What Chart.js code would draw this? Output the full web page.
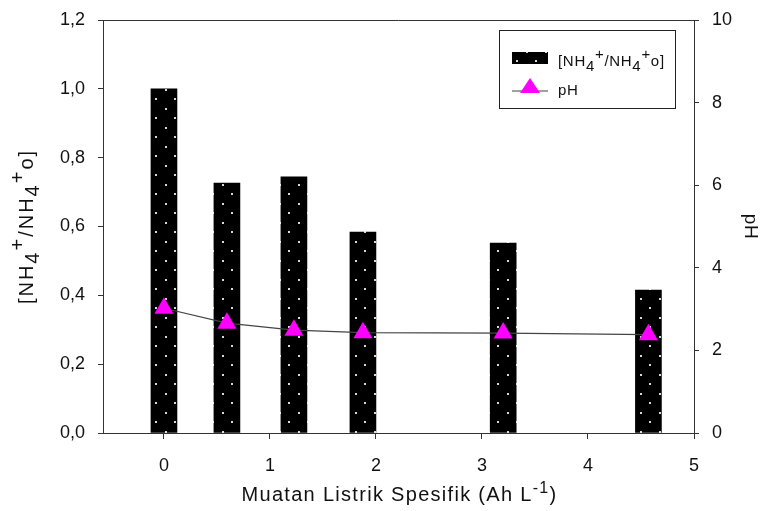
<!DOCTYPE html>
<html>
<head>
<meta charset="utf-8">
<script src="https://cdn.jsdelivr.net/npm/chart.js@4.4.1/dist/chart.umd.min.js"></script>
<style>
  html, body { margin: 0; padding: 0; background: #fff; }
  #wrap { width: 771px; height: 511px; }
</style>
</head>
<body>
<div id="wrap"><canvas id="myChart" width="771" height="511"></canvas></div>
<script>
// data
const charge = [0, 0.594, 1.226, 1.877, 3.2, 4.57];       // Ah L-1
const ratio = [1.0, 0.726, 0.744, 0.584, 0.552, 0.415];    // [NH4+/NH4+o]
const pH = [3.02, 2.66, 2.49, 2.43, 2.42, 2.38];
const xTicks = [0, 1, 2, 3, 4, 5];
const leftTicks = [0, 0.2, 0.4, 0.6, 0.8, 1.0, 1.2];
const rightTicks = [0, 2, 4, 6, 8, 10];

const FONT = '"Liberation Sans", Arial, sans-serif';
const AXIS = '#333';

// dotted black fill
const makePattern = () => {
    const c = document.createElement('canvas');
    c.width = 19; c.height = 19;
    const g = c.getContext('2d');
    g.fillStyle = '#000';
    g.fillRect(0, 0, 19, 19);
    g.fillStyle = '#d8d8d8';
    g.fillRect(3, 3, 2, 2);
    g.fillRect(13, 13, 2, 2);
    return g.createPattern(c, 'repeat');
};
const ctx0 = document.getElementById('myChart').getContext('2d');
const dots = makePattern();

// text with sub/superscripts
const nhParts = [{t: '[NH'}, {t: '4', dy: 0.3}, {t: '+', dy: -0.45}, {t: '/NH'}, {t: '4', dy: 0.3}, {t: '+', dy: -0.45}, {t: 'o]'}];
const xTitleParts = [{t: 'Muatan Listrik Spesifik (Ah L'}, {t: '-1', dy: -0.4, s: 0.8}, {t: ')'}];

const setFont = (ctx, size, spacing) => {
    ctx.font = `${size}px ${FONT}`;
    if ('letterSpacing' in ctx) ctx.letterSpacing = spacing + 'px';
};
const richWidth = (ctx, parts, size, spacing) => {
    let w = 0;
    for (const p of parts) {
        setFont(ctx, size * (p.s || 1), spacing);
        w += ctx.measureText(p.t).width;
    }
    return w;
};
const richText = (ctx, parts, x, y, size, spacing) => {
    let cx = x;
    ctx.textAlign = 'left';
    ctx.textBaseline = 'alphabetic';
    for (const p of parts) {
        setFont(ctx, size * (p.s || 1), spacing);
        ctx.fillText(p.t, cx, y + (p.dy || 0) * size);
        cx += ctx.measureText(p.t).width;
    }
    setFont(ctx, size, 0);
};

const extras = {
    id: 'extras',
    afterDraw(chart) {
        const {ctx, chartArea: a} = chart;
        ctx.save();
        // top frame line
        ctx.strokeStyle = AXIS;
        ctx.lineWidth = 1;
        ctx.beginPath();
        ctx.moveTo(a.left, a.top + 0.5);
        ctx.lineTo(a.right, a.top + 0.5);
        ctx.stroke();

        ctx.fillStyle = '#111';
        // x title
        const xw = richWidth(ctx, xTitleParts, 20, 1.3);
        richText(ctx, xTitleParts, (a.left + a.right) / 2 - xw / 2 + 1, 501, 20, 1.3);

        // left title, rotated
        const lw = richWidth(ctx, nhParts, 20, 2);
        ctx.save();
        ctx.translate(33, (a.top + a.bottom) / 2);
        ctx.rotate(-Math.PI / 2);
        richText(ctx, nhParts, -lw / 2, 0, 20, 2);
        ctx.restore();

        // right title
        ctx.save();
        ctx.translate(745, (a.top + a.bottom) / 2);
        ctx.rotate(Math.PI / 2);
        setFont(ctx, 19, 0.5);
        ctx.textAlign = 'center';
        ctx.fillText('pH', 0, 0);
        ctx.restore();

        // legend
        ctx.strokeStyle = '#222';
        ctx.lineWidth = 1;
        ctx.strokeRect(499.5, 30.5, 176, 78);
        ctx.fillStyle = dots;
        ctx.fillRect(512, 52, 36, 12);
        ctx.fillStyle = '#111';
        richText(ctx, nhParts, 558, 66, 15, 0.7);
        ctx.strokeStyle = '#444';
        ctx.lineWidth = 1.2;
        ctx.beginPath();
        ctx.moveTo(512, 91);
        ctx.lineTo(548, 91);
        ctx.stroke();
        ctx.fillStyle = '#ff00ff';
        ctx.beginPath();
        ctx.moveTo(530, 78);
        ctx.lineTo(540, 93);
        ctx.lineTo(520, 93);
        ctx.closePath();
        ctx.fill();
        ctx.fillStyle = '#111';
        setFont(ctx, 15, 0.7);
        ctx.fillText('pH', 558, 95);
        ctx.restore();
    }
};

const tickFont = {family: FONT, size: 18};
const fitY = w => s => { s.width = w; s.paddingTop = 0; s.paddingBottom = 0; };

new Chart(ctx0, {
    data: {
        datasets: [
            {
                type: 'line',
                label: 'pH',
                data: charge.map((c, i) => ({x: c, y: pH[i]})),
                yAxisID: 'y1',
                borderColor: '#444',
                borderWidth: 1.2,
                pointStyle: 'triangle',
                pointRadius: 11,
                pointBackgroundColor: '#ff00ff',
                pointBorderColor: '#ff00ff',
                pointBorderWidth: 0,
                tension: 0,
                order: 0
            },
            {
                type: 'bar',
                label: '[NH4+/NH4+o]',
                data: charge.map((c, i) => ({x: c, y: ratio[i]})),
                yAxisID: 'y',
                backgroundColor: dots,
                borderWidth: 0,
                barThickness: 26,
                order: 1
            }
        ]
    },
    options: {
        responsive: false,
        animation: false,
        layout: {padding: {top: 20, left: 0, right: 0, bottom: 0}},
        plugins: {legend: {display: false}, tooltip: {enabled: false}},
        scales: {
            x: {
                type: 'linear',
                offset: false,
                min: -0.575,
                max: 5,
                afterBuildTicks: s => { s.ticks = xTicks.map(v => ({value: v})); },
                afterFit: s => { s.height = 78; s.paddingLeft = 0; s.paddingRight = 0; },
                grid: {offset: false, drawOnChartArea: false, tickLength: 6, color: AXIS},
                border: {color: AXIS, width: 1},
                ticks: {font: tickFont, color: '#111', padding: 16, maxRotation: 0}
            },
            y: {
                position: 'left',
                min: 0,
                max: 1.2,
                afterBuildTicks: s => { s.ticks = leftTicks.map(v => ({value: v})); },
                afterFit: fitY(103),
                grid: {drawOnChartArea: false, tickLength: 5, color: AXIS},
                border: {color: AXIS, width: 1},
                ticks: {font: tickFont, color: '#111', padding: 13,
                        callback: v => v.toFixed(1).replace('.', ',')}
            },
            y1: {
                position: 'right',
                min: 0,
                max: 10,
                afterBuildTicks: s => { s.ticks = rightTicks.map(v => ({value: v})); },
                afterFit: fitY(77),
                grid: {drawOnChartArea: false, tickLength: 5, color: AXIS},
                border: {color: AXIS, width: 1},
                ticks: {font: tickFont, color: '#111', padding: 13}
            }
        }
    },
    plugins: [extras]
});
</script>
</body>
</html>
